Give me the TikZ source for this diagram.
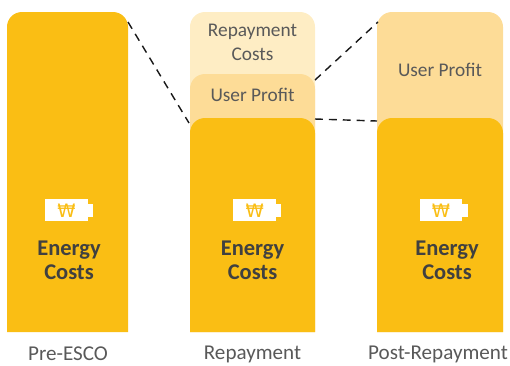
\documentclass[tikz,border=0pt]{standalone}
\usepackage{fontspec}
\setmainfont{Carlito}
\newfontfamily\wonfont{DejaVu Sans}
\usetikzlibrary{positioning,calc}

\definecolor{energyYellow}{HTML}{FABE14}
\definecolor{profitTan}{HTML}{FDDC97}
\definecolor{repayCream}{HTML}{FEEDC4}
\definecolor{labelGray}{HTML}{595959}
\definecolor{boldGray}{HTML}{404040}

\tikzset{
    barlabel/.style={text=labelGray,font=\fontsize{11}{13.4}\selectfont,align=center,inner sep=0pt},
    energylabel/.style={text=boldGray,font=\fontsize{12.8}{13.6}\selectfont\bfseries,align=center,inner sep=0pt},
    collabel/.style={text=labelGray,font=\fontsize{12}{12}\selectfont,inner sep=0pt},
    battbody/.style={fill=white,inner sep=0pt,outer sep=0pt,minimum width=24.2pt,minimum height=12.6pt},
    battnub/.style={fill=white,inner sep=0pt,outer sep=0pt,minimum width=3pt,minimum height=7.4pt},
    wonsign/.style={text=energyYellow,font=\fontsize{10.5}{10}\selectfont\wonfont,inner sep=0pt},
    link/.style={thick,black!90,dash pattern=on 4.5pt off 3.4pt}
}

% bar with rounded top corners: left, right, top
\newcommand{\topbar}[4]{
    \fill[#1] (#2,332) [rounded corners=8.5pt] -- (#2,#4) -- (#3,#4) [sharp corners] -- (#3,332) -- cycle;
}

% battery with won sign and the text below it
\newcommand{\battcost}[3]{
    \node[battbody] (#3Batt) at (#1,210) {};
    \node[battnub,right=0pt of #3Batt] (#3Nub) {};
    \node[wonsign] (#3Won) at (#1,210.5) {₩};
    \node[energylabel] (#3Cost) at (#2,260.5) {Energy\\Costs};
}

\begin{document}
\begin{tikzpicture}[x=0.2mm,y=-0.2mm]
    \useasboundingbox (0,0) rectangle (510,365);

    % Left bar
    \topbar{energyYellow}{7}{128}{12}
    \battcost{66.5}{69}{pre}
    \node[collabel] (preLabel) at (68,354) {Pre-ESCO};

    % Middle bar
    \topbar{repayCream}{190}{315}{12}
    \topbar{profitTan}{190}{315}{74}
    \topbar{energyYellow}{190}{315}{118}
    \node[barlabel] (repayCost) at (252.5,42.5) {Repayment\\Costs};
    \node[barlabel] (midProfit) at (252.5,95) {User Profit};
    \battcost{254.75}{252.5}{mid}
    \node[collabel] (midLabel) at (252.5,354) {Repayment};

    % Right bar
    \topbar{profitTan}{377}{503}{12}
    \topbar{energyYellow}{377}{503}{118}
    \node[barlabel] (postProfit) at (440,70) {User Profit};
    \battcost{441}{447}{post}
    \node[collabel] (postLabel) at (438,354) {Post-Repayment};

    % Connector ends
    \coordinate (preTop) at (128,22);
    \coordinate (midEnergyTop) at (189,123);
    \coordinate (midProfitTop) at (315,80);
    \coordinate (postTop) at (378,22);
    \coordinate (midEnergyRight) at (315,119);
    \coordinate (postEnergyLeft) at (377,121);

    % ================== Connectors ==================
    \draw[link] (preTop) -- (midEnergyTop);
    \draw[link] (midProfitTop) -- (postTop);
    \draw[link] (midEnergyRight) -- (postEnergyLeft);
\end{tikzpicture}
\end{document}
